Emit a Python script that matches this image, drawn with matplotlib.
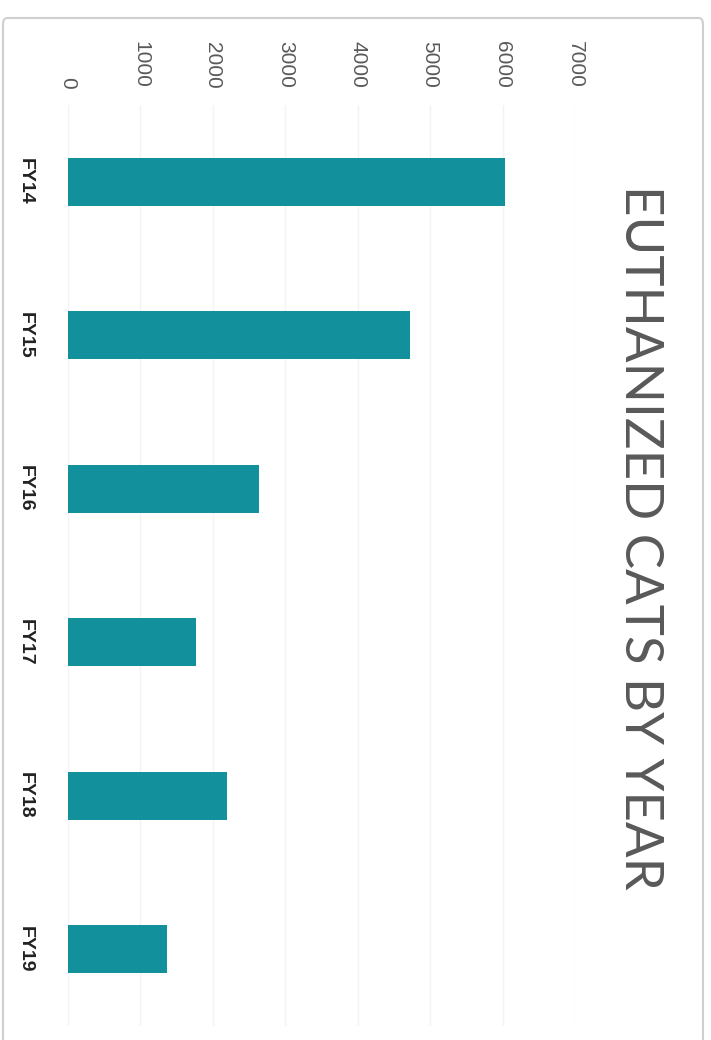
import matplotlib.pyplot as plt
from matplotlib.patches import FancyBboxPatch

years = ['FY14', 'FY15', 'FY16', 'FY17', 'FY18', 'FY19']
euthanized = [6040, 4720, 2640, 1770, 2200, 1370]
value_ticks = [0, 1000, 2000, 3000, 4000, 5000, 6000, 7000]

TEAL = '#12909c'
GRAY = '#595959'

fig = plt.figure(figsize=(7.11, 10.4), dpi=100)
ax = fig.add_axes([68 / 711, 14 / 1040, (575 - 68) / 711, (1026 - 105) / 1040])

# the page was scanned rotated, so draw a horizontal bar chart with rotated text
pos = list(range(len(years)))
ax.barh(pos, euthanized, height=0.31, color=TEAL, zorder=3)
ax.set_ylim(len(years) - 0.5, -0.5)
ax.set_xlim(0, 7000)

ax.set_xticks(value_ticks)
ax.set_xticklabels([str(v) for v in value_ticks], rotation=-90,
                   ha='center', va='bottom', color=GRAY,
                   fontsize=15, family='Liberation Sans')
ax.xaxis.set_ticks_position('top')
ax.tick_params(axis='x', length=0, pad=12)

ax.set_yticks(pos)
ax.set_yticklabels(years, rotation=-90, ha='right', va='center',
                   fontweight='bold', fontsize=14, color='#222222',
                   family='Liberation Sans')
ax.tick_params(axis='y', length=0, pad=25)

ax.grid(axis='x', color='#f3f3f3', linewidth=1, zorder=0)
for s in ax.spines.values():
    s.set_visible(False)

fig.text(0.90, 1 - 537 / 1040, 'EUTHANIZED CATS BY YEAR', rotation=-90,
         ha='center', va='center', fontsize=38, color=GRAY,
         family='Lato', fontweight='normal')

# chart border
border = FancyBboxPatch((3 / 711, -0.05), 700 / 711, 1.05 - 18 / 1040,
                        boxstyle='round,pad=0,rounding_size=0.006',
                        transform=fig.transFigure, fill=False,
                        edgecolor='#cfcfcf', linewidth=1.5)
fig.patches.append(border)

fig.savefig('out.png', dpi=100)
